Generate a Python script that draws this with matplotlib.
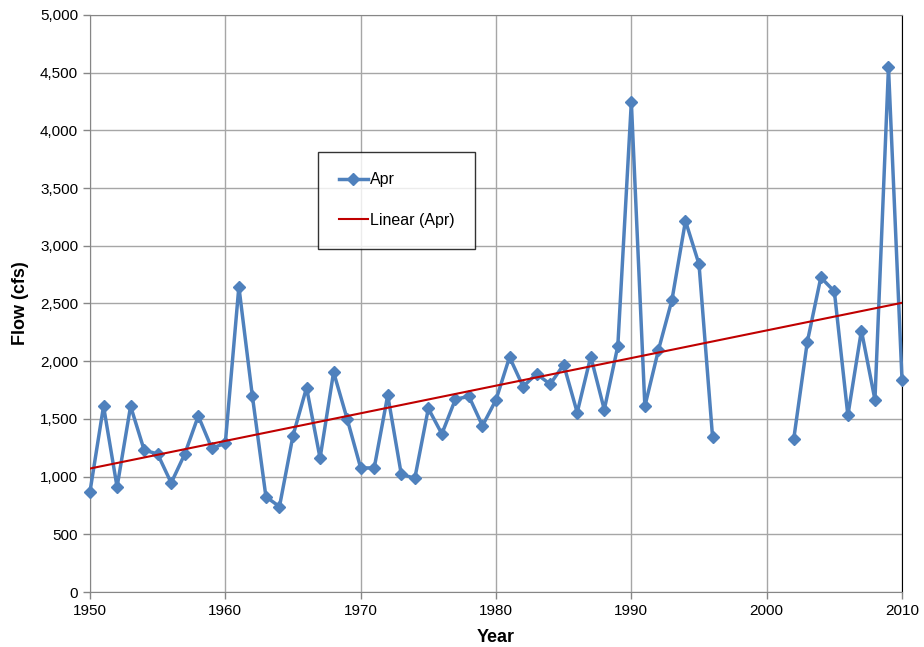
import matplotlib.pyplot as plt
import numpy as np
from matplotlib.ticker import FuncFormatter

plt.rcParams['font.family'] = ['Liberation Sans', 'DejaVu Sans']

years = list(range(1950, 2011))
flow = [870, 1610, 910, 1610, 1230, 1195, 945, 1195, 1525, 1245,
        1290, 2645, 1695, 825, 740, 1355, 1770, 1160, 1905, 1500,
        1075, 1075, 1705, 1020, 985, 1590, 1370, 1670, 1695, 1440,
        1665, 2035, 1780, 1890, 1800, 1970, 1555, 2040, 1580, 2130,
        4245, 1610, 2095, 2530, 3215, 2840, 1345, None, None, None,
        None, None, 1325, 2165, 2725, 2605, 1530, 2265, 1665, 4545,
        1840]

x = np.array(years, dtype=float)
y = np.array([np.nan if v is None else v for v in flow], dtype=float)
ok = ~np.isnan(y)
slope, icpt = np.polyfit(x[ok], y[ok], 1)

fig = plt.figure(figsize=(9.24, 6.47), dpi=100)
ax = fig.add_axes([0.0974, 0.085, 0.8788, 0.892])

ax.plot(x, y, color='#4F81BD', lw=2.5, marker='D', ms=6, label='Apr', clip_on=False, zorder=3)
ax.plot(x, slope * x + icpt, color='#C00000', lw=1.5, label='Linear (Apr)', zorder=4)

ax.set_xlim(1950, 2010)
ax.set_ylim(0, 5000)
ax.set_xticks(range(1950, 2011, 10))
ax.set_yticks(range(0, 5001, 500))
ax.yaxis.set_major_formatter(FuncFormatter(lambda v, p: f'{int(v):,}'))
ax.grid(True, color='#A6A6A6', lw=1)
ax.set_axisbelow(True)
ax.tick_params(labelsize=11, length=5, color='#868686', width=1)
for s in ['left', 'bottom', 'top']:
    ax.spines[s].set_color('#868686')
ax.spines['right'].set_color('#000000')

ax.set_xlabel('Year', fontsize=13, fontweight='bold', labelpad=8)
ax.set_ylabel('Flow (cfs)', fontsize=13, fontweight='bold', labelpad=8)

leg = ax.legend(loc='upper left', bbox_to_anchor=(0.281, 0.763), fontsize=11.5,
                frameon=True, fancybox=False, borderpad=1.3, labelspacing=1.6,
                handlelength=1.8, handletextpad=0.15, borderaxespad=0)
leg.get_frame().set_edgecolor('black')
leg.get_frame().set_linewidth(1)

fig.savefig('out.png')
